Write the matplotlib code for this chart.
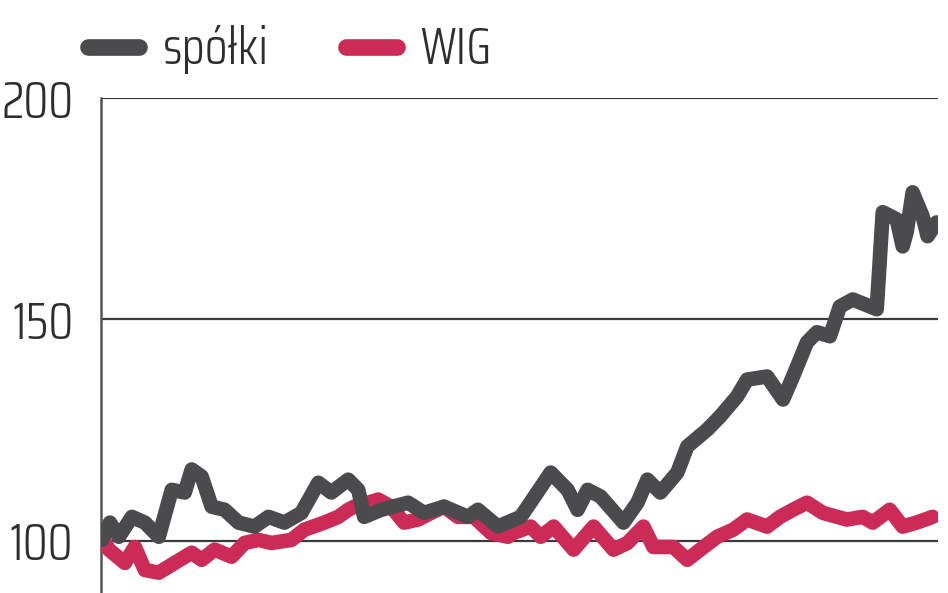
import matplotlib
matplotlib.use("Agg")
import matplotlib.pyplot as plt
from matplotlib.lines import Line2D

# session index (time) and values for each series
spolki_t = [0, 8, 17, 30, 43, 57, 70, 83, 90, 100, 110, 123, 137, 153, 167, 183, 200,
            217, 230, 247, 257, 263, 280, 307, 323, 343, 367, 377, 397, 420, 450, 467,
            477, 487, 500, 523, 537, 547, 560, 577, 587, 607, 620, 637, 647, 667, 683,
            693, 707, 717, 730, 740, 753, 777, 783, 797, 803, 807, 813, 823, 828, 837]
spolki_v = [100.2, 104.1, 100.9, 105.4, 104.1, 100.9, 111.5, 110.9, 116.1, 114.5, 107.7,
            107.0, 104.1, 103.2, 105.4, 104.1, 106.3, 113.1, 110.9, 113.8, 111.5, 105.4,
            107.0, 108.6, 106.3, 107.7, 105.4, 107.0, 103.2, 105.4, 115.4, 111.5, 107.0,
            111.5, 110.0, 104.1, 108.6, 113.8, 110.9, 115.4, 121.3, 125.1, 128.1, 132.6,
            136.4, 137.1, 131.9, 137.1, 144.8, 147.1, 146.2, 152.9, 154.5, 152.3, 174.2,
            172.6, 166.5, 169.7, 178.7, 173.3, 168.8, 171.9]

wig_t = [0, 7, 23, 33, 43, 57, 73, 90, 100, 113, 130, 143, 157, 170, 190, 203, 223, 237,
         247, 253, 267, 277, 290, 303, 317, 330, 343, 357, 373, 390, 407, 413, 430, 440,
         453, 473, 493, 513, 527, 543, 553, 573, 587, 600, 617, 633, 647, 667, 680, 693,
         707, 723, 747, 763, 773, 790, 803, 817, 833]
wig_v = [100.9, 98.0, 95.0, 98.6, 93.4, 92.8, 95.0, 97.3, 95.7, 98.0, 96.4, 99.5, 100.2,
         99.5, 100.2, 102.5, 104.1, 105.4, 107.0, 107.7, 108.6, 109.3, 107.7, 104.1, 104.8,
         106.3, 107.7, 105.4, 105.4, 101.8, 100.9, 101.8, 103.2, 100.9, 103.2, 98.0, 103.2,
         98.0, 99.5, 103.2, 98.6, 98.6, 95.7, 98.0, 100.9, 102.5, 104.8, 103.2, 105.4,
         107.0, 108.6, 106.3, 104.8, 105.4, 104.1, 107.0, 103.2, 104.1, 105.4]

series_names = ["spółki", "WIG"]
yticks = [100, 150, 200]
ytick_labels = ["100", "150", "200"]

GRAY = "#4b4b4d"
RED = "#cc2b57"
TEXT = "#2e2e2e"
FONT = ["Saira Condensed", "DejaVu Sans"]

fig = plt.figure(figsize=(9.48, 5.93), dpi=100)
ax = fig.add_axes([0.1065, 0.0, 0.8825, 0.8347])

ax.plot(wig_t, wig_v, color=RED, lw=10.5, solid_capstyle="round",
        solid_joinstyle="round", zorder=3)
ax.plot(spolki_t, spolki_v, color=GRAY, lw=10.5, solid_capstyle="round",
        solid_joinstyle="round", zorder=4)

ax.set_xlim(-1, 838)
ax.set_ylim(88.2, 200)

for s in ["top", "right", "bottom"]:
    ax.spines[s].set_visible(False)
ax.spines["left"].set_color("#555555")
ax.spines["left"].set_linewidth(1.8)

ax.set_yticks(yticks)
ax.set_yticklabels(ytick_labels)
ax.set_xticks([])
ax.tick_params(axis="y", length=0, pad=20, labelsize=37, labelcolor=TEXT)
for lab in ax.get_yticklabels():
    lab.set_family(FONT)
    lab.set_fontweight(300)
ax.yaxis.grid(True, color="#3a3a3a", lw=1.6, zorder=1)
ax.set_axisbelow(True)

handles = [Line2D([], [], color=GRAY, lw=12, solid_capstyle="round"),
           Line2D([], [], color=RED, lw=12, solid_capstyle="round")]
leg = fig.legend(handles, series_names, loc="upper left",
                 bbox_to_anchor=(0.044, 1.035), ncol=2, frameon=False,
                 handlelength=1.0, handletextpad=0.45, columnspacing=1.5,
                 prop={"family": FONT, "size": 37, "weight": 300})
for t in leg.get_texts():
    t.set_color(TEXT)

fig.savefig("out.png", dpi=100)
